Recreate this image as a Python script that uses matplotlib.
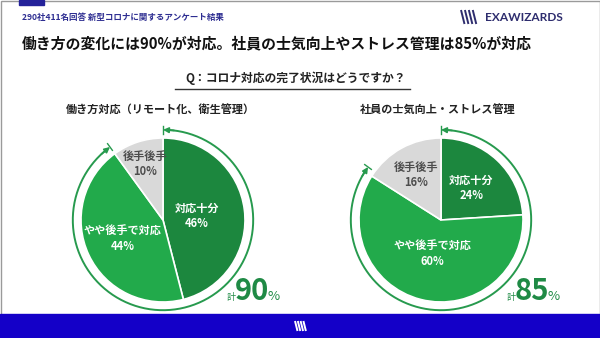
import numpy as np
import matplotlib
matplotlib.use('Agg')
import matplotlib.pyplot as plt
from matplotlib.patches import Rectangle

plt.rcParams['font.family'] = ['Noto Sans CJK JP', 'DejaVu Sans']

# data
header = '290社411名回答 新型コロナに関するアンケート結果'
title = '働き方の変化には90%が対応。社員の士気向上やストレス管理は85%が対応'
question = 'Q：コロナ対応の完了状況はどうですか？'
chart_titles = ['働き方対応（リモート化、衛生管理）', '社員の士気向上・ストレス管理']
categories = ['対応十分', 'やや後手で対応', '後手後手']
values_work = [46, 44, 10]
values_staff = [24, 60, 16]
totals = [90, 85]

colors = ['#1c873e', '#22aa4b', '#d9d9d9']
label_colors = ['white', 'white', '#4d4d4d']
arc_color = '#279a4e'

W, H = 600, 338
fig = plt.figure(figsize=(6, 3.38), dpi=100)
bg = fig.add_axes([0, 0, 1, 1])
bg.set_xlim(0, W)
bg.set_ylim(H, 0)
bg.axis('off')

# frame, top tab, footer
bg.add_patch(Rectangle((0.5, 0.5), W - 1, H - 1, fill=False, ec='#9a9a9a', lw=1))
bg.add_patch(Rectangle((19, 0), 25, 5, color='#24229a'))
bg.add_patch(Rectangle((0, 314), W, 24, color='#1400c8'))


def logo_mark(x, y, h, color):
    for i in range(4):
        x0 = x + i * h * 0.28
        bg.plot([x0, x0 + h * 0.25], [y - h / 2, y + h / 2], color=color, lw=1.4,
                solid_capstyle='butt')


logo_mark(461, 17, 14, '#2e2d6e')
bg.text(485, 17.5, 'EXAWIZARDS', fontsize=8.6, fontweight='bold', color='#2e2d6e',
        family=['Lato', 'DejaVu Sans'], va='center', ha='left')
logo_mark(295, 326, 10, 'white')

bg.text(22, 17, header, fontsize=6.1, fontweight='bold', color='#2d2d91', va='center')
bg.text(22, 43, title, fontsize=10.7, fontweight='bold', color='#111111', va='center')
bg.text(296, 78, question, fontsize=8.5, fontweight='bold', color='#222222',
        ha='center', va='center')
bg.plot([175, 410], [89, 89], color='#333333', lw=1)

centers = [(163, 220), (441, 220)]
radius_px = 82
label_r = [[0.42, 0.54, 0.72], [0.54, 0.43, 0.63]]
total_x = [227, 507]

for k, vals in enumerate([values_work, values_staff]):
    cx, cy = centers[k]
    bg.text(cx - 3, 110, chart_titles[k], fontsize=8, fontweight='bold',
            color='#222222', ha='center', va='center')

    half = 100
    ax = fig.add_axes([(cx - half) / W, (H - cy - half) / H, 2 * half / W, 2 * half / H])
    wedges, _ = ax.pie(vals, colors=colors, startangle=90, counterclock=False,
                       wedgeprops=dict(edgecolor='white', linewidth=1.2))
    lim = half / radius_px
    ax.set_xlim(-lim, lim)
    ax.set_ylim(-lim, lim)
    ax.set_aspect('equal')
    ax.axis('off')

    for i, w in enumerate(wedges):
        th = np.deg2rad((w.theta1 + w.theta2) / 2)
        r = label_r[k][i]
        ax.text(r * np.cos(th), r * np.sin(th), f'{categories[i]}\n{vals[i]}%',
                ha='center', va='center', fontsize=8, fontweight='bold',
                color=label_colors[i], linespacing=1.25)

    # arc around the "handled" share
    ra = 1.1
    end = 90 - 360 * totals[k] / 100
    t = np.deg2rad(np.linspace(90 - 3, end + 3, 200))
    ax.plot(ra * np.cos(t), ra * np.sin(t), color=arc_color, lw=1.4, clip_on=False)
    for a_end, a_from in [(90, 90 - 7), (end, end + 7)]:
        te, tf = np.deg2rad(a_end), np.deg2rad(a_from)
        ax.annotate('', xy=(ra * np.cos(te), ra * np.sin(te)),
                    xytext=(ra * np.cos(tf), ra * np.sin(tf)),
                    arrowprops=dict(arrowstyle='-|>', color=arc_color, lw=1.2,
                                    mutation_scale=8, shrinkA=0, shrinkB=0),
                    annotation_clip=False)
        ax.plot([1.05 * np.cos(te), 1.15 * np.cos(te)],
                [1.05 * np.sin(te), 1.15 * np.sin(te)], color=arc_color, lw=1,
                clip_on=False)

    x0 = total_x[k]
    bg.text(x0, 300, '計', fontsize=6.5, color='#1f8a45', va='baseline')
    bg.text(x0 + 8, 300, str(totals[k]), fontsize=21, fontweight='bold',
            color='#1f8a45', va='baseline')
    bg.text(x0 + 41, 300, '%', fontsize=9.5, color='#1f8a45', va='baseline')

fig.savefig('out.png', dpi=100)
